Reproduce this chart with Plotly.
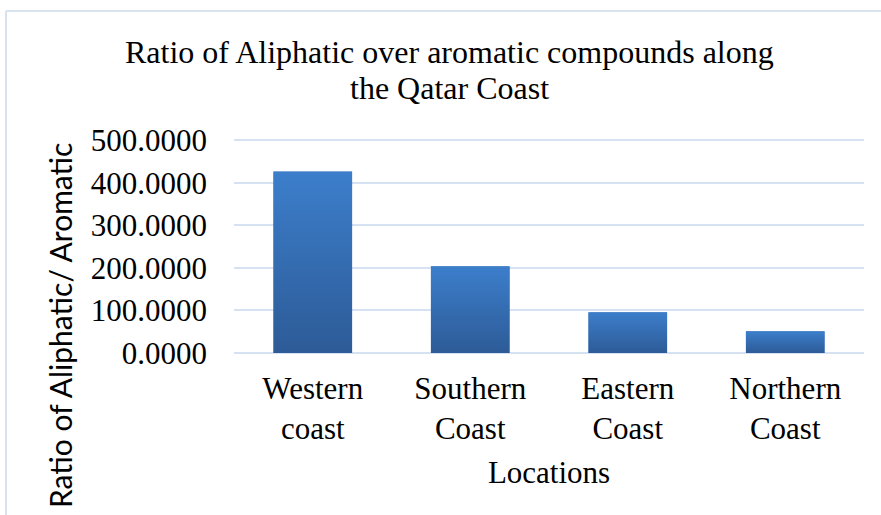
import plotly.graph_objects as go

# Aliphatic / aromatic ratio at each stretch of coast
locations = ["Western<br>coast", "Southern<br>Coast", "Eastern<br>Coast", "Northern<br>Coast"]
ratios = [426.5, 203.5, 95.5, 51.0]
y_ticks = [0, 100, 200, 300, 400, 500]
y_tick_labels = ["0.0000", "100.0000", "200.0000", "300.0000", "400.0000", "500.0000"]
title_lines = ["Ratio of Aliphatic over aromatic compounds along", "the Qatar Coast"]

W, H = 881, 515
L, R, T, B = 234, 17, 138, 162
Y_MAX = 505
SERIF = "Liberation Serif, Times New Roman, serif"
GRID = "#d6e2f1"

fig = go.Figure()
fig.add_trace(go.Bar(
    x=list(range(len(ratios))),
    y=ratios,
    marker=dict(color="#3570b8", line=dict(width=0)),
    width=0.5,
    hoverinfo="y",
))

# vertical gradient laid over each bar (lighter at the top, darker at the base)
grad_svg = (
    "data:image/svg+xml;utf8,"
    "<svg xmlns='http://www.w3.org/2000/svg' width='10' height='100' preserveAspectRatio='none'>"
    "<defs><linearGradient id='g' x1='0' y1='0' x2='0' y2='1'>"
    "<stop offset='0' stop-color='%233c7ecb'/><stop offset='1' stop-color='%232d5b97'/>"
    "</linearGradient></defs><rect width='10' height='100' fill='url(%23g)'/></svg>"
)
images = []
for i, v in enumerate(ratios):
    images.append(dict(
        source=grad_svg, xref="x", yref="y", x=i - 0.25, y=v,
        sizex=0.5, sizey=v, sizing="stretch", xanchor="left", yanchor="top",
        layer="above",
    ))

pw, ph = W - L - R, H - T - B
def px_x(px):
    return (px - L) / pw
def px_y(py):
    return (H - B - py) / ph

annotations = [dict(
    text="Ratio of Aliphatic/ Aromatic", textangle=-90,
    xref="paper", yref="paper", x=px_x(60), y=px_y(326),
    xanchor="center", yanchor="middle", showarrow=False,
    font=dict(family="Lato, Carlito, Calibri, sans-serif", size=30, color="black"),
)]
# two-line chart title, centred over the whole chart
for line, cy in zip(title_lines, [52, 88]):
    annotations.append(dict(
        text=line, xref="paper", yref="paper", x=px_x(449), y=px_y(cy),
        xanchor="center", yanchor="middle", showarrow=False,
        font=dict(family=SERIF, size=32, color="black"),
    ))

fig.update_layout(
    width=W, height=H,
    margin=dict(l=L, r=R, t=T, b=B),
    paper_bgcolor="white", plot_bgcolor="white",
    showlegend=False,
    images=images,
    xaxis=dict(
        tickmode="array", tickvals=list(range(len(ratios))), ticktext=locations,
        range=[-0.5, len(ratios) - 0.5],
        tickfont=dict(family=SERIF, size=31, color="black"),
        showgrid=False, zeroline=False, showline=False, ticks="",
        ticklabelstandoff=14,
        title=dict(text="Locations", font=dict(family=SERIF, size=31, color="black"), standoff=16),
    ),
    yaxis=dict(
        range=[0, Y_MAX], tickmode="array", tickvals=y_ticks, ticktext=y_tick_labels,
        tickfont=dict(family=SERIF, size=31, color="black"),
        showgrid=True, gridcolor=GRID, gridwidth=2,
        zeroline=True, zerolinecolor=GRID, zerolinewidth=2,
        showline=False, ticks="", ticklabelstandoff=26,
    ),
    annotations=annotations,
    shapes=[
        dict(type="line", xref="paper", yref="paper",
             x0=px_x(6), x1=px_x(W + 2), y0=px_y(11), y1=px_y(11),
             line=dict(color="#d9e3f0", width=2)),
        dict(type="line", xref="paper", yref="paper",
             x0=px_x(6), x1=px_x(6), y0=px_y(11), y1=px_y(H + 2),
             line=dict(color="#d9e3f0", width=2)),
    ],
)

fig.write_html("out.html")
